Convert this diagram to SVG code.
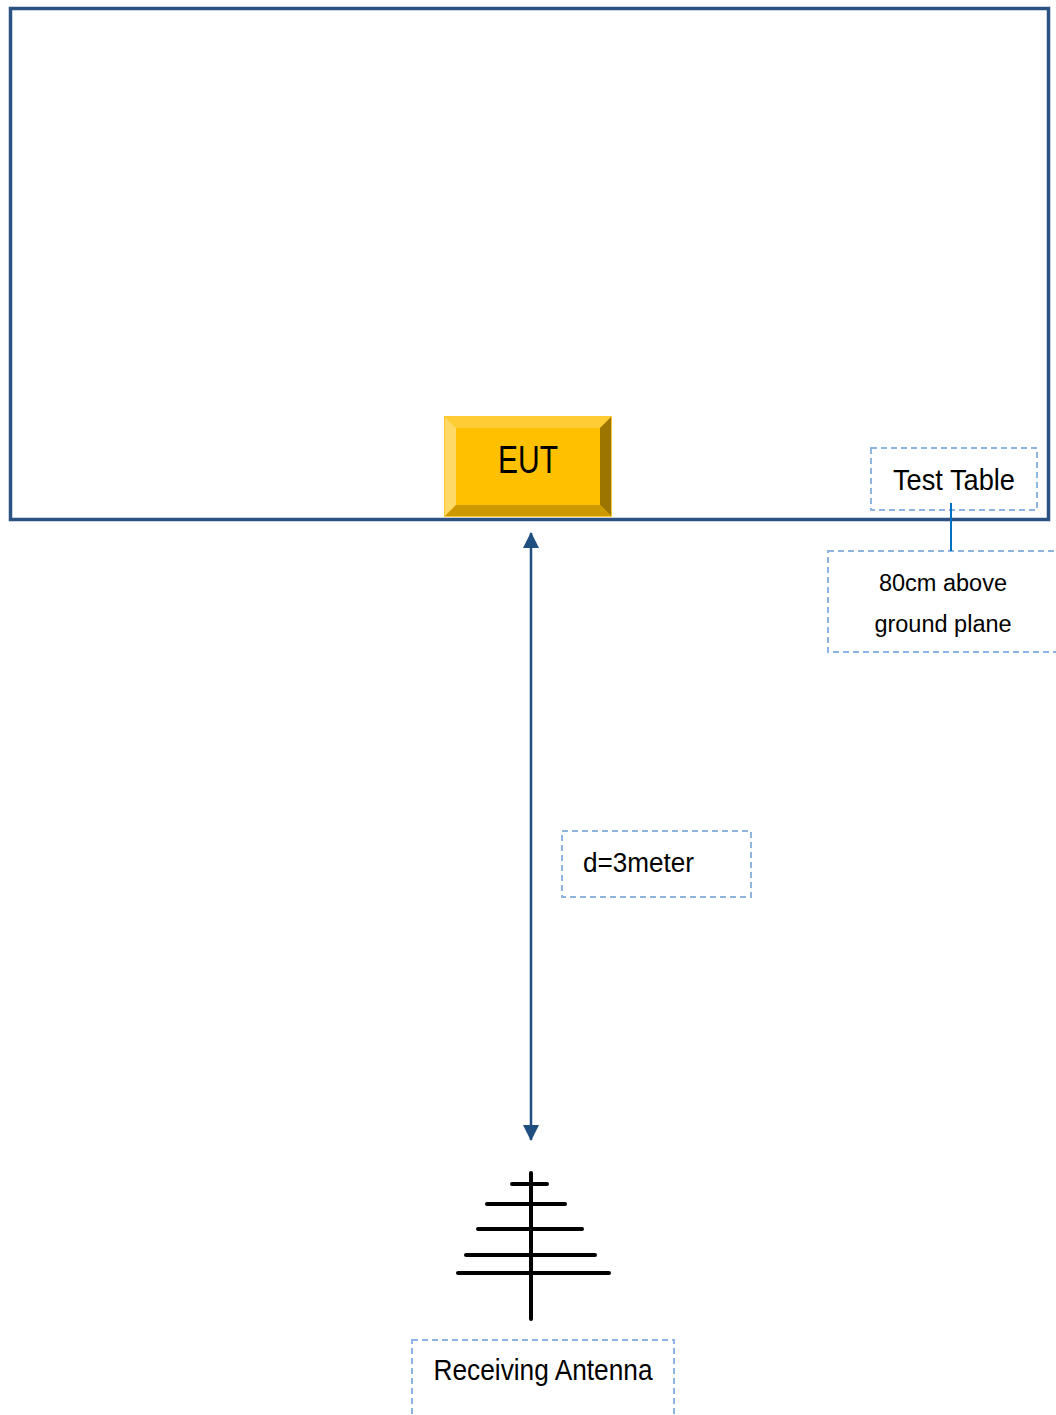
<svg xmlns="http://www.w3.org/2000/svg" width="1056" height="1415" viewBox="0 0 1056 1415">
<style>
.lbl{fill:none;stroke:#8EB4E3;stroke-width:2;stroke-dasharray:6 4}
.t{font-family:"Liberation Sans",Arial,sans-serif;fill:#000}
.ant{stroke:#000;stroke-width:4;stroke-linecap:round}
</style>
<defs>
<marker id="ah" viewBox="0 0 16 16" refX="15" refY="8" markerWidth="16" markerHeight="16" markerUnits="userSpaceOnUse" orient="auto-start-reverse">
<path d="M0,0 L16,8 L0,16 z" fill="#1F4E80"/>
</marker>
</defs>
<rect width="1056" height="1415" fill="#fff"/>
<g id="test-table">
<rect x="10.5" y="8.5" width="1038" height="511" fill="none" stroke="#2C5283" stroke-width="3.5"/>
</g>
<g id="eut">
<rect x="444" y="416" width="168" height="101" fill="#FFC000"/>
<polygon points="444,416 612,416 600,428 456,428" fill="#FFCD33"/>
<polygon points="444,416 456,428 456,505 444,517" fill="#FFD966"/>
<polygon points="612,416 612,517 600,505 600,428" fill="#9C7400"/>
<polygon points="444,517 612,517 600,505 456,505" fill="#CC9A00"/>
<rect x="444.5" y="416.5" width="167" height="100" fill="none" stroke="#FFC933" stroke-width="1"/>
<text class="t" x="528" y="473" font-size="38" text-anchor="middle" textLength="60" lengthAdjust="spacingAndGlyphs">EUT</text>
</g>
<g id="test-table-label">
<rect class="lbl" x="871" y="448" width="166" height="62"/>
<text class="t" x="954" y="490" font-size="30" text-anchor="middle" textLength="122" lengthAdjust="spacingAndGlyphs">Test Table</text>
</g>
<g id="height-label">
<rect class="lbl" x="828" y="551" width="240" height="101"/>
<text class="t" x="943" y="591" font-size="23.5" text-anchor="middle">80cm above</text>
<text class="t" x="943" y="632" font-size="23.5" text-anchor="middle">ground plane</text>
</g>
<g id="distance-label">
<rect class="lbl" x="562" y="831" width="189" height="66"/>
<text class="t" x="583" y="872" font-size="27" textLength="111" lengthAdjust="spacingAndGlyphs">d=3meter</text>
</g>
<g id="antenna">
<line class="ant" x1="531" y1="1173" x2="531" y2="1319" stroke-width="6"/>
<line class="ant" x1="512" y1="1184" x2="547" y2="1184"/>
<line class="ant" x1="487" y1="1204" x2="565" y2="1204"/>
<line class="ant" x1="478" y1="1229" x2="582" y2="1229"/>
<line class="ant" x1="466" y1="1255" x2="595" y2="1255"/>
<line class="ant" x1="458" y1="1273" x2="609" y2="1273"/>
</g>
<g id="antenna-label">
<rect class="lbl" x="412" y="1340" width="262" height="90"/>
<text class="t" x="543" y="1380" font-size="29" text-anchor="middle" textLength="219" lengthAdjust="spacingAndGlyphs">Receiving Antenna</text>
</g>
<g id="connectors">
<line x1="531" y1="533" x2="531" y2="1140" stroke="#1F4E80" stroke-width="2.5" marker-start="url(#ah)" marker-end="url(#ah)"/>
<line x1="951" y1="503" x2="951" y2="551" stroke="#0070C0" stroke-width="2"/>
</g>
</svg>
